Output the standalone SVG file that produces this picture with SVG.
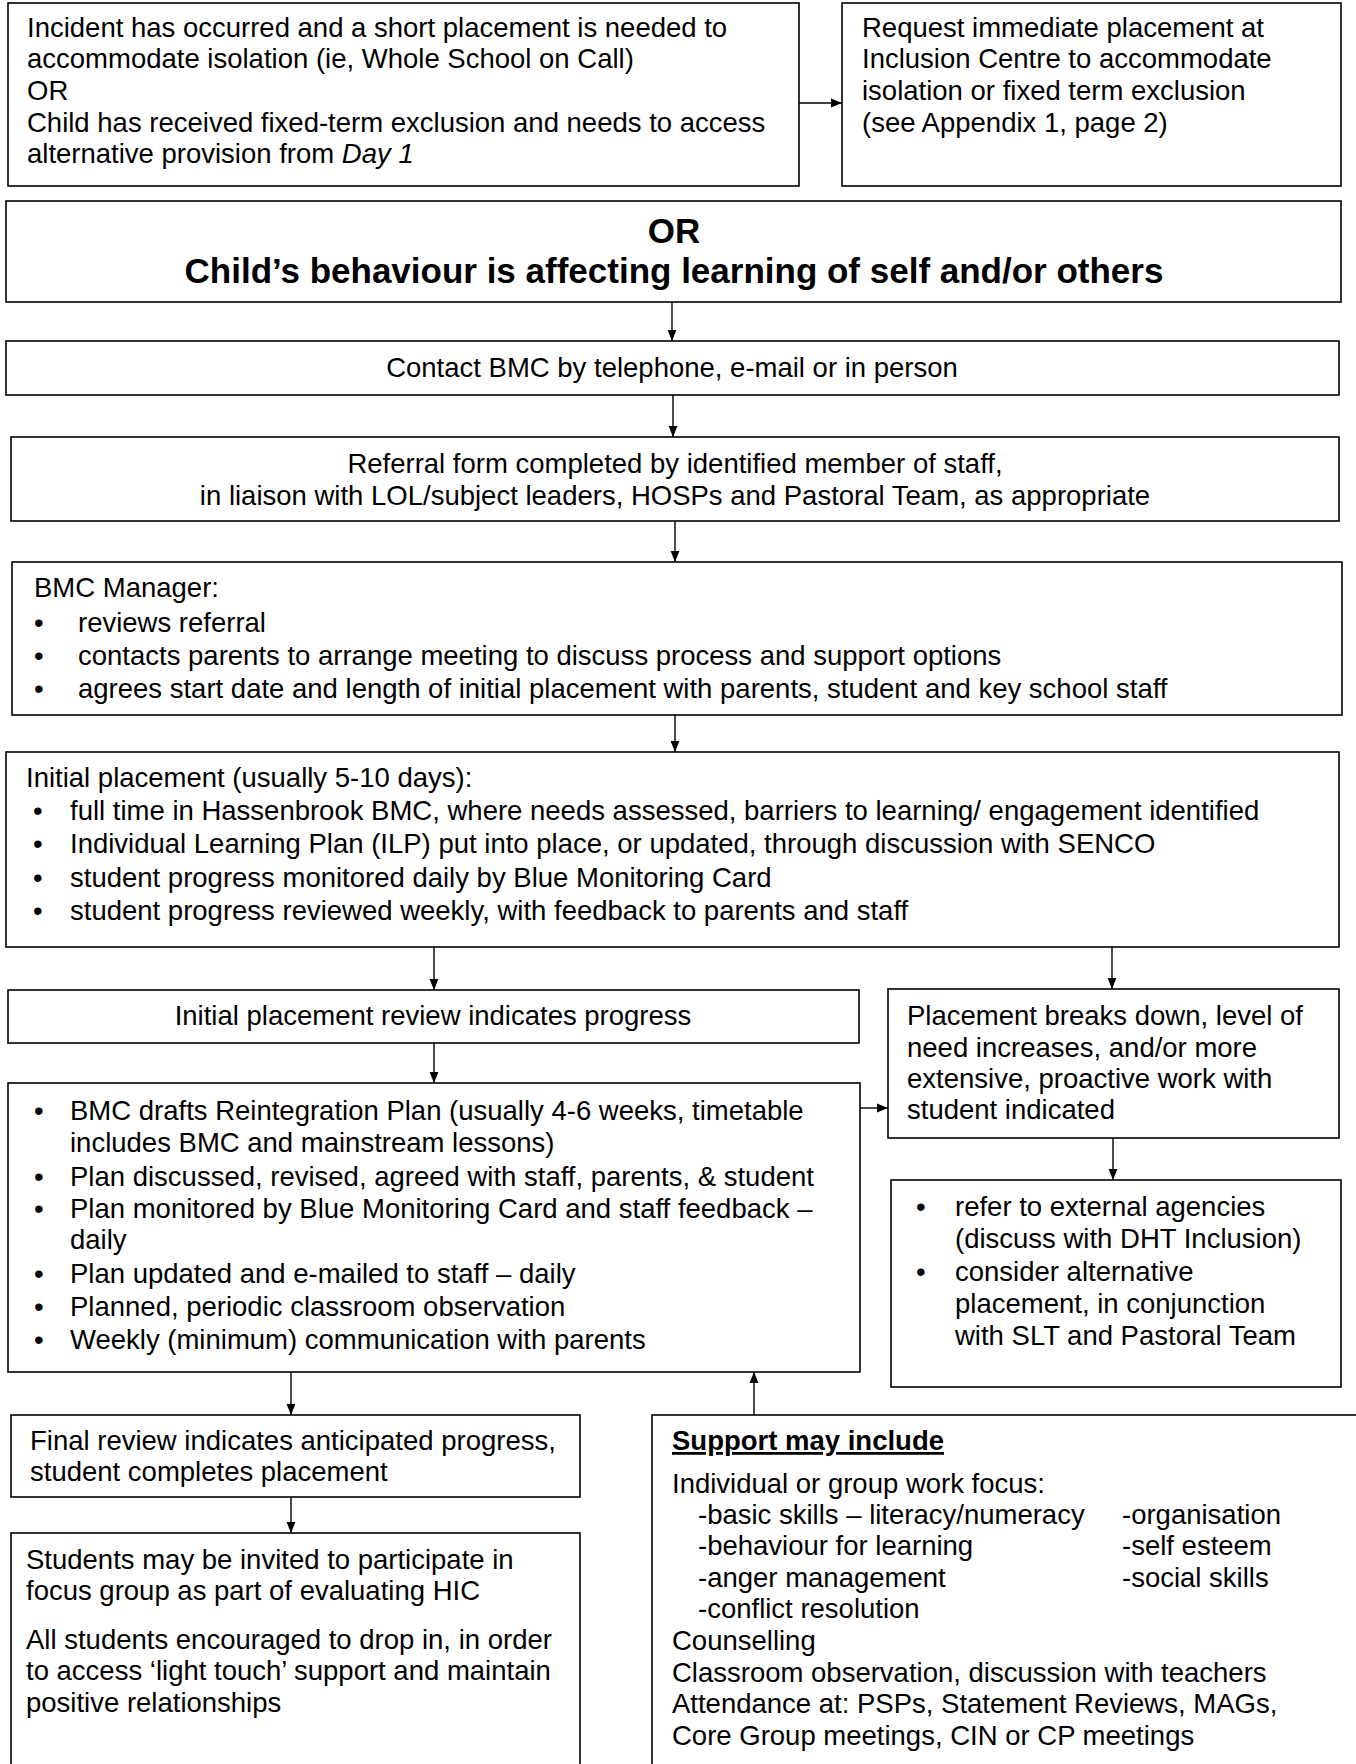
<svg xmlns="http://www.w3.org/2000/svg" width="1356" height="1764" viewBox="0 0 1356 1764">
<style>
.box{fill:#fff;stroke:#000;stroke-width:1.6}
.t{font-family:"Liberation Sans",Arial,sans-serif;font-size:27.5px;fill:#000}
.c{text-anchor:middle}
.b{font-weight:bold}
.h{font-size:35px}
.ln{stroke:#000;stroke-width:1.4;fill:none}
</style>
<defs>
<marker id="ah" viewBox="0 0 10 10" refX="10" refY="5" markerWidth="11" markerHeight="11" markerUnits="userSpaceOnUse" orient="auto">
<path d="M0,1 L10,5 L0,9 Z" fill="#000"/>
</marker>
</defs>
<rect width="1356" height="1764" fill="#fff"/>

<g id="n-incident">
<rect class="box" x="8" y="3" width="791" height="183"/>
<text class="t" x="27" y="37">Incident has occurred and a short placement is needed to</text>
<text class="t" x="27" y="68">accommodate isolation (ie, Whole School on Call)</text>
<text class="t" x="27" y="100">OR</text>
<text class="t" x="27" y="132">Child has received fixed-term exclusion and needs to access</text>
<text class="t" x="27" y="163">alternative provision from <tspan font-style="italic">Day 1</tspan></text>
</g>

<g id="n-request">
<rect class="box" x="842" y="3" width="499" height="183"/>
<text class="t" x="862" y="37">Request immediate placement at</text>
<text class="t" x="862" y="68">Inclusion Centre to accommodate</text>
<text class="t" x="862" y="100">isolation or fixed term exclusion</text>
<text class="t" x="862" y="132">(see Appendix 1, page 2)</text>
</g>

<g id="n-or">
<rect class="box" x="6" y="201" width="1335" height="101"/>
<text class="t b c h" x="674" y="243">OR</text>
<text class="t b c h" x="674" y="283">Child’s behaviour is affecting learning of self and/or others</text>
</g>

<g id="n-contact">
<rect class="box" x="6" y="341" width="1333" height="54"/>
<text class="t c" x="672" y="377">Contact BMC by telephone, e-mail or in person</text>
</g>

<g id="n-referral">
<rect class="box" x="11" y="437" width="1328" height="84"/>
<text class="t c" x="675" y="473">Referral form completed by identified member of staff,</text>
<text class="t c" x="675" y="505">in liaison with LOL/subject leaders, HOSPs and Pastoral Team, as appropriate</text>
</g>

<g id="n-manager">
<rect class="box" x="12" y="562" width="1330" height="153"/>
<text class="t" x="34" y="597">BMC Manager:</text>
<text class="t" x="34" y="632">•</text><text class="t" x="78" y="632">reviews referral</text>
<text class="t" x="34" y="665">•</text><text class="t" x="78" y="665">contacts parents to arrange meeting to discuss process and support options</text>
<text class="t" x="34" y="698">•</text><text class="t" x="78" y="698">agrees start date and length of initial placement with parents, student and key school staff</text>
</g>

<g id="n-initial">
<rect class="box" x="6" y="752" width="1333" height="195"/>
<text class="t" x="26" y="787">Initial placement (usually 5-10 days):</text>
<text class="t" x="33" y="820">•</text><text class="t" x="70" y="820">full time in Hassenbrook BMC, where needs assessed, barriers to learning/ engagement identified</text>
<text class="t" x="33" y="853">•</text><text class="t" x="70" y="853">Individual Learning Plan (ILP) put into place, or updated, through discussion with SENCO</text>
<text class="t" x="33" y="887">•</text><text class="t" x="70" y="887">student progress monitored daily by Blue Monitoring Card</text>
<text class="t" x="33" y="920">•</text><text class="t" x="70" y="920">student progress reviewed weekly, with feedback to parents and staff</text>
</g>

<g id="n-review">
<rect class="box" x="8" y="990" width="851" height="53"/>
<text class="t c" x="433" y="1025">Initial placement review indicates progress</text>
</g>

<g id="n-breakdown">
<rect class="box" x="888" y="989" width="451" height="149"/>
<text class="t" x="907" y="1025">Placement breaks down, level of</text>
<text class="t" x="907" y="1057">need increases, and/or more</text>
<text class="t" x="907" y="1088">extensive, proactive work with</text>
<text class="t" x="907" y="1119">student indicated</text>
</g>

<g id="n-reintegration">
<rect class="box" x="8" y="1083" width="852" height="289"/>
<text class="t" x="34" y="1120">•</text><text class="t" x="70" y="1120">BMC drafts Reintegration Plan (usually 4-6 weeks, timetable</text>
<text class="t" x="70" y="1152">includes BMC and mainstream lessons)</text>
<text class="t" x="34" y="1186">•</text><text class="t" x="70" y="1186">Plan discussed, revised, agreed with staff, parents, &amp; student</text>
<text class="t" x="34" y="1218">•</text><text class="t" x="70" y="1218">Plan monitored by Blue Monitoring Card and staff feedback –</text>
<text class="t" x="70" y="1249">daily</text>
<text class="t" x="34" y="1283">•</text><text class="t" x="70" y="1283">Plan updated and e-mailed to staff – daily</text>
<text class="t" x="34" y="1316">•</text><text class="t" x="70" y="1316">Planned, periodic classroom observation</text>
<text class="t" x="34" y="1349">•</text><text class="t" x="70" y="1349">Weekly (minimum) communication with parents</text>
</g>

<g id="n-agencies">
<rect class="box" x="891" y="1180" width="450" height="207"/>
<text class="t" x="916" y="1216">•</text><text class="t" x="955" y="1216">refer to external agencies</text>
<text class="t" x="955" y="1248">(discuss with DHT Inclusion)</text>
<text class="t" x="916" y="1281">•</text><text class="t" x="955" y="1281">consider alternative</text>
<text class="t" x="955" y="1313">placement, in conjunction</text>
<text class="t" x="955" y="1345">with SLT and Pastoral Team</text>
</g>

<g id="n-final">
<rect class="box" x="11" y="1415" width="569" height="82"/>
<text class="t" x="30" y="1450">Final review indicates anticipated progress,</text>
<text class="t" x="30" y="1481">student completes placement</text>
</g>

<g id="n-students">
<rect class="box" x="11" y="1533" width="569" height="260"/>
<text class="t" x="26" y="1569">Students may be invited to participate in</text>
<text class="t" x="26" y="1600">focus group as part of evaluating HIC</text>
<text class="t" x="26" y="1649">All students encouraged to drop in, in order</text>
<text class="t" x="26" y="1680">to access ‘light touch’ support and maintain</text>
<text class="t" x="26" y="1712">positive relationships</text>
</g>

<g id="n-support">
<rect class="box" x="652" y="1415" width="720" height="380"/>
<text class="t b" x="672" y="1450" text-decoration="underline">Support may include</text>
<text class="t" x="672" y="1493">Individual or group work focus:</text>
<text class="t" x="698" y="1524">-basic skills – literacy/numeracy</text>
<text class="t" x="1122" y="1524">-organisation</text>
<text class="t" x="698" y="1555">-behaviour for learning</text>
<text class="t" x="1122" y="1555">-self esteem</text>
<text class="t" x="698" y="1587">-anger management</text>
<text class="t" x="1122" y="1587">-social skills</text>
<text class="t" x="698" y="1618">-conflict resolution</text>
<text class="t" x="672" y="1650">Counselling</text>
<text class="t" x="672" y="1682">Classroom observation, discussion with teachers</text>
<text class="t" x="672" y="1713">Attendance at: PSPs, Statement Reviews, MAGs,</text>
<text class="t" x="672" y="1745">Core Group meetings, CIN or CP meetings</text>
</g>

<g id="connectors">
<line class="ln" x1="799" y1="103" x2="842" y2="103" marker-end="url(#ah)"/>
<line class="ln" x1="672" y1="302" x2="672" y2="341" marker-end="url(#ah)"/>
<line class="ln" x1="673" y1="395" x2="673" y2="437" marker-end="url(#ah)"/>
<line class="ln" x1="675" y1="521" x2="675" y2="562" marker-end="url(#ah)"/>
<line class="ln" x1="675" y1="715" x2="675" y2="752" marker-end="url(#ah)"/>
<line class="ln" x1="434" y1="947" x2="434" y2="990" marker-end="url(#ah)"/>
<line class="ln" x1="1112" y1="947" x2="1112" y2="989" marker-end="url(#ah)"/>
<line class="ln" x1="434" y1="1043" x2="434" y2="1083" marker-end="url(#ah)"/>
<line class="ln" x1="860" y1="1108" x2="888" y2="1108" marker-end="url(#ah)"/>
<line class="ln" x1="1113" y1="1138" x2="1113" y2="1180" marker-end="url(#ah)"/>
<line class="ln" x1="291" y1="1372" x2="291" y2="1415" marker-end="url(#ah)"/>
<line class="ln" x1="754" y1="1415" x2="754" y2="1372" marker-end="url(#ah)"/>
<line class="ln" x1="291" y1="1497" x2="291" y2="1533" marker-end="url(#ah)"/>
</g>
</svg>
